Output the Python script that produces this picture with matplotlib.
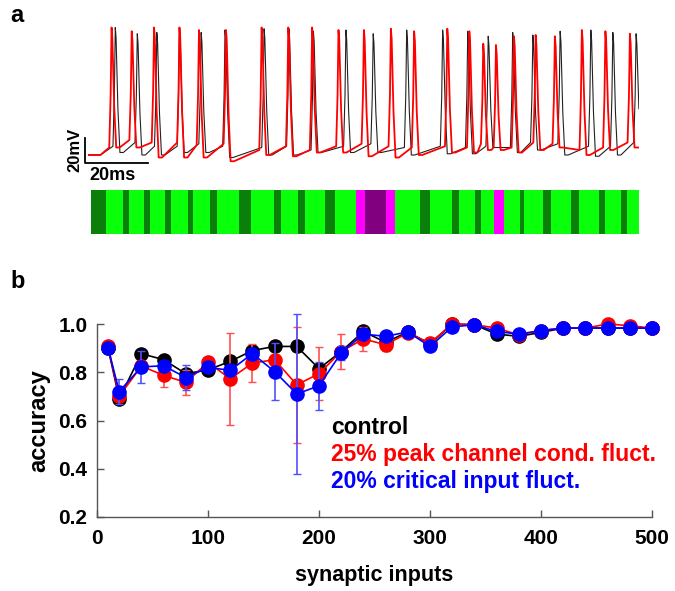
import matplotlib
matplotlib.use("Agg")
import matplotlib.pyplot as plt

plt.rcParams['font.family'] = ['Liberation Sans', 'DejaVu Sans']
plt.rcParams['font.weight'] = 'bold'

# ---------------- panel a data (ms, mV) ----------------
red_spike_t = [7.6, 14.1, 21.3, 29.5, 35.8, 44.5, 56.0, 64.6, 72.3, 80.8, 89.0, 97.7, 105.2,
               115.9, 123.0, 127.5, 131.6, 137.4, 144.4, 150.6, 159.3, 166.9, 174.8]
red_peak = [32, 29, 32, 32, 30, 30, 32, 32, 32, 30, 30, 31, 29, 31, 29, 19, 18, 25, 26, 25, 30, 29, 27]
red_pre = [-64, -58, -60, -60, -62, -61, -66, -63, -66, -63, -61, -63, -64, -63, -64, -61, -64,
           -64, -60, -61, -66, -64, -60]
red_trough = [-64, -64, -72, -72, -72, -75, -70, -71, -68, -68, -71, -72, -70, -68, -68, -66, -66,
              -68, -66, -64, -70, -66, -64]
red_end = (177.7, -64)

black_spike_t = [8.8, 15.9, 22.2, 29.5, 36.5, 44.2, 56.8, 64.8, 72.7, 83.2, 92.0, 102.8, 114.4,
                 122.5, 129.1, 137.0, 143.5, 152.3, 162.2, 169.3, 176.8]
black_peak = [32, 27, 28, 32, 28, 30, 31, 31, 29, 30, 27, 30, 30, 29, 25, 28, 26, 29, 30, 28, 27]
black_pre = [-63, -60, -63, -63, -61, -63, -64, -63, -66, -63, -61, -64, -63, -64, -63, -64,
             -60, -61, -63, -63, -60]
black_trough = [-68, -70, -70, -68, -68, -72, -70, -70, -68, -68, -68, -70, -69, -69, -64, -68,
                -66, -70, -71, -70]
black_end = (177.7, -33)

rest_v = -70
onset_t = [0, 4.0]

# colour code bar segments (ms)
bar_range = (1.0, 177.6)
dark_segs = [(1.0, 5.8), (11.4, 13.3), (18.1, 19.9), (24.9, 26.9), (32.2, 33.9), (39.5, 41.5),
             (48.8, 52.5), (59.9, 62.1), (67.9, 69.9), (76.6, 79.6), (107.1, 110.3),
             (117.4, 119.6), (124.8, 126.7), (139.4, 140.8), (146.8, 149.2), (155.7, 158.5),
             (164.7, 166.8), (171.9, 174.0)]
magenta_segs = [(86.4, 89.2), (96.1, 99.0), (131.0, 134.2)]
purple_segs = [(89.2, 96.1)]

# ---------------- panel b data ----------------
inputs = [10, 20, 40, 60, 80, 100, 120, 140, 160, 180, 200, 220, 240, 260, 280, 300, 320, 340,
          360, 380, 400, 420, 440, 460, 480, 500]
acc_control = [0.90, 0.69, 0.877, 0.852, 0.794, 0.81, 0.845, 0.89, 0.907, 0.907, 0.815, 0.886,
               0.969, 0.924, 0.967, 0.917, 1.0, 0.997, 0.958, 0.949, 0.965, 0.983, 0.983, 0.983,
               0.983, 0.983]
acc_peak = [0.907, 0.70, 0.826, 0.787, 0.758, 0.841, 0.773, 0.838, 0.852, 0.748, 0.794, 0.886,
            0.938, 0.914, 0.963, 0.921, 1.0, 0.997, 0.983, 0.955, 0.973, 0.983, 0.983, 1.0,
            0.993, 0.983]
err_peak = [0.02, 0.02, 0.02, 0.05, 0.053, 0.015, 0.19, 0.08, 0.02, 0.24, 0.11, 0.074, 0.05,
            0.025, 0.01, 0.02, 0.01, 0.01, 0.01, 0.01, 0.01, 0.01, 0.01, 0.01, 0.01, 0.01]
acc_input = [0.90, 0.72, 0.822, 0.827, 0.778, 0.82, 0.808, 0.877, 0.803, 0.71, 0.744, 0.88,
             0.958, 0.949, 0.967, 0.907, 0.988, 0.997, 0.969, 0.958, 0.973, 0.983, 0.983, 0.983,
             0.983, 0.983]
err_input = [0.01, 0.05, 0.065, 0.02, 0.053, 0.02, 0.02, 0.02, 0.12, 0.33, 0.1, 0.03, 0.02,
             0.01, 0.01, 0.01, 0.01, 0.01, 0.01, 0.01, 0.01, 0.01, 0.01, 0.01, 0.01, 0.01]
legend_labels = ["control", "25% peak channel cond. fluct.", "20% critical input fluct."]

W, H = 675, 591
fig = plt.figure(figsize=(W / 100, H / 100), dpi=100)


def rect(x0, y0, x1, y1):
    return [x0 / W, 1 - y1 / H, (x1 - x0) / W, (y1 - y0) / H]


def build(times, peaks, pres, troughs, end):
    ts = list(onset_t)
    vs = [rest_v, rest_v]
    for i, t in enumerate(times):
        ts += [t - 0.75, t - 0.3, t, t + 0.25]
        vs += [pres[i], (pres[i] + peaks[i]) / 2 - 6, peaks[i], peaks[i] - 8]
        if i < len(troughs):
            ts += [t + 0.85, t + 1.5, t + 2.6]
            vs += [(peaks[i] + troughs[i]) / 2 - 15, troughs[i], troughs[i]]
    ts.append(end[0])
    vs.append(end[1])
    return ts, vs


axa = fig.add_axes(rect(88, 20, 639, 170))
tb, vb = build(black_spike_t, black_peak, black_pre, black_trough, black_end)
tr, vr = build(red_spike_t, red_peak, red_pre, red_trough, red_end)
axa.plot(tb, vb, color='#222222', lw=0.8)
axa.plot(tr, vr, color='#ff0000', lw=1.3)
axa.set_xlim(0, 177.74)
axa.set_ylim(-82, 38)
axa.axis('off')
# scale bars
axa.plot([-1, -1, 19.4], [-56.4, -76.4, -76.4], color='black', lw=1.3, clip_on=False)
axa.text(-1.8, -66, "20mV", rotation=90, ha='right', va='center', fontsize=12, fontweight='bold')
axa.text(8, -79.3, "20ms", ha='center', va='top', fontsize=13, fontweight='bold')

axbar = fig.add_axes(rect(88, 190, 639, 234))
axbar.set_xlim(0, 177.74)
axbar.set_ylim(0, 1)
axbar.broken_barh([(bar_range[0], bar_range[1] - bar_range[0])], (0, 1), facecolors='#0aff0a')
axbar.broken_barh([(a, b - a) for a, b in dark_segs], (0, 1), facecolors='#0a800a')
axbar.broken_barh([(a, b - a) for a, b in magenta_segs], (0, 1), facecolors='#ff00ff')
axbar.broken_barh([(a, b - a) for a, b in purple_segs], (0, 1), facecolors='#800080')
axbar.axis('off')

fig.text(10 / W, 1 - 16 / H, "a", fontsize=17, fontweight='bold', va='center', ha='left')
fig.text(10 / W, 1 - 281 / H, "b", fontsize=17, fontweight='bold', va='center', ha='left')

# ---------------- panel b ----------------
axb = fig.add_axes(rect(97, 324, 652, 517))
ms = 9.5
axb.plot(inputs, acc_control, '-o', color='black', ms=ms, lw=1.2, zorder=3, clip_on=False)
axb.errorbar(inputs, acc_peak, yerr=err_peak, fmt='-o', color='#ff0000', ms=ms, lw=1.2,
             ecolor='#ff5050', elinewidth=1.2, capsize=3, zorder=4, clip_on=False)
axb.errorbar(inputs, acc_input, yerr=err_input, fmt='-o', color='#0000ff', ms=ms, lw=1.2,
             ecolor='#5050ff', elinewidth=1.2, capsize=3, zorder=5, clip_on=False)
axb.set_xlim(0, 500)
axb.set_ylim(0.2, 1.0)
axb.set_xticks([0, 100, 200, 300, 400, 500])
axb.set_yticks([0.2, 0.4, 0.6, 0.8, 1.0])
axb.set_yticklabels(["0.2", "0.4", "0.6", "0.8", "1.0"])
for s in ['top', 'right']:
    axb.spines[s].set_visible(False)
for s in ['left', 'bottom']:
    axb.spines[s].set_color('#555555')
    axb.spines[s].set_linewidth(1.0)
axb.tick_params(direction='in', length=5, width=1, colors='#555555', labelcolor='black',
                labelsize=15)
axb.tick_params(axis='x', pad=9)
axb.tick_params(axis='y', pad=7)
for lab in axb.get_xticklabels() + axb.get_yticklabels():
    lab.set_fontweight('bold')
axb.set_xlabel("synaptic inputs", fontsize=15.5, fontweight='bold', labelpad=12)
axb.set_ylabel("accuracy", fontsize=17, fontweight='bold', labelpad=6)
for lab, col, yv in zip(legend_labels, ['black', '#ff0000', '#0000ff'], [0.570, 0.458, 0.346]):
    axb.text(210.8, yv, lab, color=col, fontsize=16.5, fontweight='bold', ha='left', va='center')

fig.savefig("out.png", dpi=100)
